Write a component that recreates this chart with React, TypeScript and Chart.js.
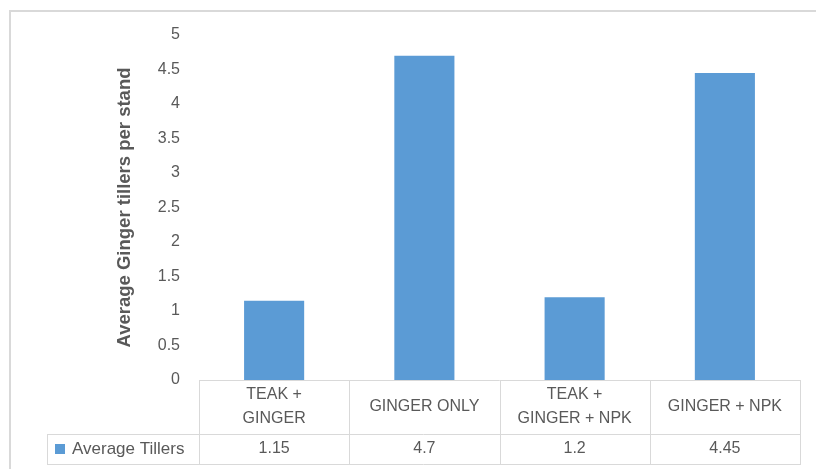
import { useEffect, useRef } from "react";
import { Chart, registerables } from "chart.js";

Chart.register(...registerables);

// Treatments (header lines of the data table) and the measured values
const categories: string[][] = [
  ["TEAK +", "GINGER"],
  ["GINGER ONLY"],
  ["TEAK +", "GINGER + NPK"],
  ["GINGER + NPK"],
];
const seriesName = "Average Tillers";
const tillers = [1.15, 4.7, 1.2, 4.45];
const valueLabels = ["1.15", "4.7", "1.2", "4.45"];
const yAxisTitle = "Average Ginger tillers per stand";
const yMin = 0;
const yMax = 5;
const yStep = 0.5;

const BAR_COLOR = "#5b9bd5";
const TEXT_COLOR = "#595959";
const LINE_COLOR = "#d9d9d9";
const FONT = "'Liberation Sans', Arial, sans-serif";

// Draws the outer frame and the data table underneath the plot area
const dataTablePlugin = {
  id: "dataTable",
  afterDraw(chart: Chart) {
    const { ctx, chartArea } = chart;
    const n = categories.length;
    const left = chartArea.left;
    const right = chartArea.right;
    const colW = (right - left) / n;
    const top = chartArea.bottom;
    const headerBottom = top + 54;
    const rowBottom = headerBottom + 30;
    const labelLeft = 47;

    ctx.save();

    // outer frame
    ctx.strokeStyle = LINE_COLOR;
    ctx.lineWidth = 2;
    ctx.strokeRect(10, 11, 1000, 800);

    // table grid
    ctx.lineWidth = 1;
    ctx.beginPath();
    ctx.moveTo(left, top + 0.5);
    ctx.lineTo(right, top + 0.5);
    ctx.moveTo(labelLeft, headerBottom + 0.5);
    ctx.lineTo(right, headerBottom + 0.5);
    ctx.moveTo(labelLeft, rowBottom + 0.5);
    ctx.lineTo(right, rowBottom + 0.5);
    for (let i = 0; i <= n; i++) {
      const x = Math.round(left + i * colW) + 0.5;
      ctx.moveTo(x, top);
      ctx.lineTo(x, rowBottom + 1);
    }
    ctx.moveTo(labelLeft + 0.5, headerBottom);
    ctx.lineTo(labelLeft + 0.5, rowBottom + 1);
    ctx.stroke();

    // header texts and values
    ctx.fillStyle = TEXT_COLOR;
    ctx.font = `16px ${FONT}`;
    ctx.textAlign = "center";
    ctx.textBaseline = "middle";
    const lineH = 24;
    const headerMid = (top + headerBottom) / 2;
    const rowMid = (headerBottom + rowBottom) / 2;
    const xScale = chart.scales.x;
    categories.forEach((lines, i) => {
      const cx = xScale.getPixelForValue(i);
      const y0 = headerMid - ((lines.length - 1) * lineH) / 2;
      lines.forEach((t, j) => ctx.fillText(t, cx, y0 + j * lineH));
      ctx.fillText(valueLabels[i], cx, rowMid);
    });

    // series key
    ctx.fillStyle = BAR_COLOR;
    ctx.fillRect(labelLeft + 8, rowMid - 5, 10, 10);
    ctx.fillStyle = TEXT_COLOR;
    ctx.textAlign = "left";
    ctx.font = `17px ${FONT}`;
    ctx.fillText(seriesName, labelLeft + 25, rowMid);

    ctx.restore();
  },
};

export default function App() {
  const canvasRef = useRef<HTMLCanvasElement | null>(null);

  useEffect(() => {
    if (!canvasRef.current) return;
    const chart = new Chart(canvasRef.current, {
      type: "bar",
      data: {
        labels: categories.map((c) => c.join(" ")),
        datasets: [
          {
            label: seriesName,
            data: tillers,
            backgroundColor: BAR_COLOR,
            borderWidth: 0,
            categoryPercentage: 1,
            barPercentage: 0.4,
          },
        ],
      },
      options: {
        responsive: false,
        animation: false,
        layout: { padding: { left: 114, right: 16, top: 35, bottom: 89 } },
        plugins: {
          legend: { display: false },
          tooltip: { enabled: false },
        },
        scales: {
          x: { display: false },
          y: {
            min: yMin,
            max: yMax,
            ticks: {
              stepSize: yStep,
              padding: 19,
              color: TEXT_COLOR,
              font: { family: FONT, size: 16 },
              callback: (v: any) => String(Number(v)),
            },
            grid: { display: false, drawTicks: false },
            border: { display: false },
            title: {
              display: true,
              text: yAxisTitle,
              color: TEXT_COLOR,
              font: { family: FONT, size: 18.5, weight: "bold" },
              padding: 0,
            },
            afterFit: (scale: any) => {
              scale.width = 85;
            },
          },
        },
      },
      plugins: [dataTablePlugin],
    });
    return () => chart.destroy();
  }, []);

  return (
    <div style={{ position: "fixed", left: 0, top: 0, width: 816, height: 469, background: "#fff" }}>
      <canvas ref={canvasRef} width={816} height={469} style={{ display: "block" }} />
    </div>
  );
}
